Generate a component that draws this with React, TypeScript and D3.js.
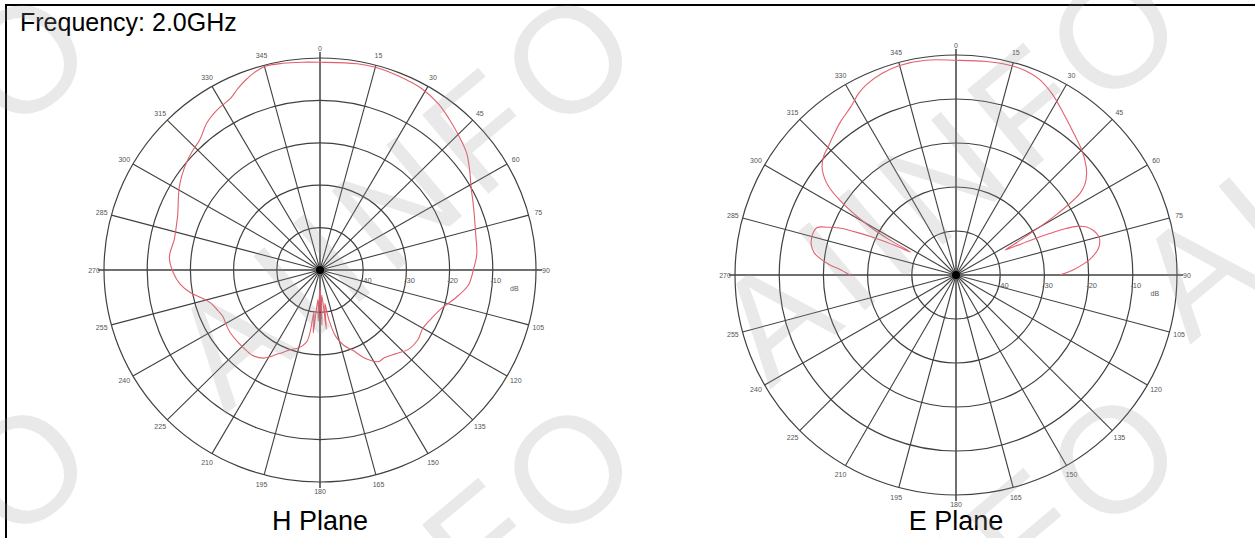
import React from "react";
import * as d3 from "d3";

const TITLE = "Frequency: 2.0GHz";
const ANGLE_LABELS = [0, 15, 30, 45, 60, 75, 90, 105, 120, 135, 150, 165, 180, 195, 210, 225, 240, 255, 270, 285, 300, 315, 330, 345];
const RING_DB = [-40, -30, -20, -10];
const DB_MIN = -50;
const DB_MAX = 0;

const H_ANGLES = [0, 10, 15, 22, 29, 35, 40, 45, 51, 56, 61, 66, 70, 77, 84, 90, 96, 102, 108, 114, 120, 126, 132, 138, 144, 148, 153, 158, 163, 167, 170, 172, 174, 176, 178, 180, 182, 184, 186, 188, 190, 195, 200, 206, 212, 218, 222, 228, 235, 240, 244, 248, 253, 257, 260, 264, 269, 275, 282, 287, 292, 297, 301, 305, 309.5, 314, 318, 323, 328, 333, 336, 339, 342, 345, 350, 355];
const H_DB = [-1.0, -0.6, -0.5, -0.8, -1.2, -2.2, -3.5, -4.8, -6.3, -8.2, -10.0, -11.2, -12.0, -13.0, -13.5, -14.5, -15.5, -18.0, -20.5, -21.8, -22.5, -22.0, -22.2, -23.5, -24.5, -24.5, -26.5, -29.5, -31.5, -34, -38, -42, -36, -44, -37, -46, -38, -43, -35, -40, -33, -31, -30, -28, -25.5, -24.5, -24.5, -24.5, -24.5, -24.8, -25, -24.5, -23.5, -21.5, -19.5, -17.5, -16, -15, -15.5, -15.2, -14.5, -13.2, -12, -11, -10, -9.2, -8.5, -6.5, -5.3, -4.5, -3.2, -2, -1, -0.3, -0.5, -0.8];

const E_ANGLES = [-90, -87, -85.5, -83, -81, -78, -76, -73, -71, -69.5, -68, -66.5, -65, -64, -63, -62, -61, -60, -58.5, -57, -55.5, -54, -51, -48, -45, -41.6, -37, -32, -28, -25, -20, -15, -8, 0, 8, 14, 19, 23, 28, 33.6, 39, 44, 48, 52, 55, 56.6, 58, 59, 60, 61, 62, 63, 64, 65, 66, 67, 68, 69.7, 72, 75, 78, 80, 83, 85, 87.5, 90];
const E_DB = [-26, -23.5, -21.5, -19, -17.5, -16.5, -16.3, -16.3, -16.8, -19, -21.5, -26, -31, -35, -38.5, -33, -29, -26, -22, -18.5, -15.5, -13.5, -11, -9.7, -9, -8, -6.5, -5, -3.2, -2.2, -1.2, -0.7, -0.7, -1.2, -1.0, -0.8, -1.0, -1.7, -3.5, -6, -8, -9.5, -10.8, -12.5, -14.5, -16.5, -20.5, -24, -28, -32, -35, -37.5, -35, -31, -27, -23, -20.5, -18.5, -17.3, -16.5, -16.8, -17.5, -19.3, -21, -23.5, -26.5];

const PLANE_LABELS = ["H Plane", "E Plane"];
const WATERMARK = "AIINFO";

type PolarProps = {
  cx: number;
  cy: number;
  rx: number;
  ry: number;
  angles: number[];
  values: number[];
  closed: boolean;
  label: string;
};

const FONT = "Liberation Sans, Arial, sans-serif";

function Polar({ cx, cy, rx, ry, angles, values, closed, label }: PolarProps) {
  const rScale = d3.scaleLinear().domain([DB_MIN, DB_MAX]).range([0, 1]);
  const pt = (deg: number, f: number): [number, number] => {
    const t = (deg * Math.PI) / 180;
    return [cx + f * rx * Math.sin(t), cy - f * ry * Math.cos(t)];
  };
  const pts = angles.map((a, i) => pt(a, rScale(values[i])));
  const line = d3
    .line()
    .curve(closed ? d3.curveCatmullRomClosed.alpha(0.5) : d3.curveCatmullRom.alpha(0.5));
  const gridColor = "#404040";
  return (
    <g>
      {RING_DB.concat([DB_MAX]).map((db) => (
        <ellipse
          key={"r" + db}
          cx={cx}
          cy={cy}
          rx={rx * rScale(db)}
          ry={ry * rScale(db)}
          fill="none"
          stroke={gridColor}
          strokeWidth={1.2}
        />
      ))}
      {ANGLE_LABELS.map((a) => {
        const ext = a % 90 === 0 ? 1 + 6 / rx : 1;
        const [x2, y2] = pt(a, ext);
        return (
          <line
            key={"s" + a}
            x1={cx}
            y1={cy}
            x2={x2}
            y2={y2}
            stroke={gridColor}
            strokeWidth={a % 90 === 0 ? 1.5 : 1.1}
          />
        );
      })}
      {ANGLE_LABELS.map((a) => {
        const [x, y] = pt(a, 1 + 10 / rx);
        return (
          <text
            key={"l" + a}
            x={x}
            y={y}
            fontSize={7}
            fontFamily={FONT}
            fill="#555"
            textAnchor="middle"
            dominantBaseline="central"
          >
            {a}
          </text>
        );
      })}
      {RING_DB.map((db) => (
        <text
          key={"d" + db}
          x={cx + rx * rScale(db) + 3}
          y={cy + 10}
          fontSize={7.5}
          fontFamily={FONT}
          fill="#555"
          textAnchor="middle"
          dominantBaseline="central"
        >
          {"-" + Math.abs(db)}
        </text>
      ))}
      <text
        x={cx + rx * rScale(-5)}
        y={cy + 18}
        fontSize={7}
        fontFamily={FONT}
        fill="#555"
        textAnchor="middle"
        dominantBaseline="central"
      >
        dB
      </text>
      <circle cx={cx} cy={cy} r={4} fill="#000" />
      <path d={line(pts) || ""} fill="none" stroke="#e2606c" strokeWidth={1.1} />
      <text x={cx} y={530} fontSize={27} fontFamily={FONT} fill="#000" textAnchor="middle">
        {label}
      </text>
    </g>
  );
}

const WM_STARTS: [number, number][] = [
  [-320, 415],
  [225, 415],
  [770, 390],
  [1190, 345],
  [-320, 825],
  [225, 825],
  [770, 815],
];

export default function App() {
  return (
    <svg
      width={1255}
      height={538}
      style={{ position: "absolute", left: 0, top: 0, background: "#fff" }}
    >
      <rect x={0} y={0} width={1255} height={538} fill="#fff" />
      <rect x={6} y={5} width={1300} height={600} fill="none" stroke="#000" strokeWidth={2} />
      <text x={20} y={31} fontSize={25} fontFamily={FONT} fill="#000">
        {TITLE}
      </text>
      <Polar cx={320} cy={270} rx={216} ry={212} angles={H_ANGLES} values={H_DB} closed={true} label={PLANE_LABELS[0]} />
      <Polar cx={956} cy={275} rx={221} ry={220} angles={E_ANGLES} values={E_DB} closed={false} label={PLANE_LABELS[1]} />
      <g opacity={0.22}>
        {WM_STARTS.map(([x, y], i) => (
          <text
            key={"w" + i}
            x={x}
            y={y}
            transform={`rotate(-40 ${x} ${y})`}
            fontSize={150}
            letterSpacing={10}
            fontFamily={FONT}
            fill="#9a9a9a"
          >
            {WATERMARK}
          </text>
        ))}
      </g>
    </svg>
  );
}
